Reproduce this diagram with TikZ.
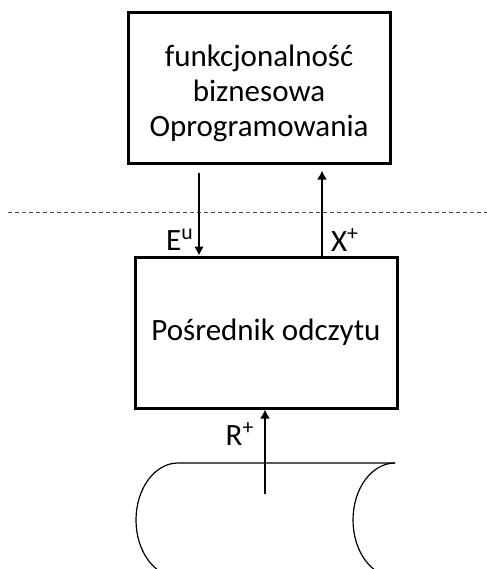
\documentclass[tikz,border=0pt]{standalone}
\usepackage{fontspec}
\setmainfont{Carlito}
\usetikzlibrary{arrows.meta,positioning,calc}

\tikzset{
  blok/.style={draw,line width=1.5pt,minimum width=131pt,minimum height=75.5pt,
    align=center,font=\fontsize{15.5}{17.5}\selectfont,inner sep=0pt},
  flow/.style={line width=1pt,-{Latex[length=4.5pt,width=5pt]}},
  etykieta/.style={font=\fontsize{15.5}{17}\selectfont,inner sep=0pt}
}

\begin{document}
\begin{tikzpicture}[x=0.5pt,y=-0.5pt]
\useasboundingbox (0,0) rectangle (487,569);
\clip (0,0) rectangle (487,569);
\node[blok] (biz) at (259,87.5) {\rule{0pt}{16.5pt}funkcjonalność\\biznesowa\\Oprogramowania};
\node[blok] (posr) at (266,332.5) {Pośrednik odczytu};
% granica
\draw[dashed,dash pattern=on 2pt off 1.5pt,line width=0.4pt,black!70] (8,212) coordinate (gl) -- (487,212) coordinate (gp);
% strzalki
\draw[flow,shorten <=4pt] (biz.south -| 199,0) -- (posr.north -| 199,0);
\draw[flow,shorten >=3pt] (posr.north -| 322,0) -- (biz.south -| 322,0);
\node[etykieta] (eu) at (180,240) {E\textsuperscript{u}};
\node[etykieta] (xp) at (345,240) {X\textsuperscript{+}};
% nosnik
\draw[line width=0.6pt] (395,463) -- (178,463)
  arc[start angle=270,end angle=90,x radius=42,y radius=57] -- (395,577);
\draw[line width=0.6pt] (395,463)
  arc[start angle=270,end angle=90,x radius=42,y radius=57];
\coordinate (rs) at (265,494);
\draw[flow] (rs) -- (posr.south -| rs);
\node[etykieta] (rp) at (240,434) {R\textsuperscript{+}};
\end{tikzpicture}
\end{document}
